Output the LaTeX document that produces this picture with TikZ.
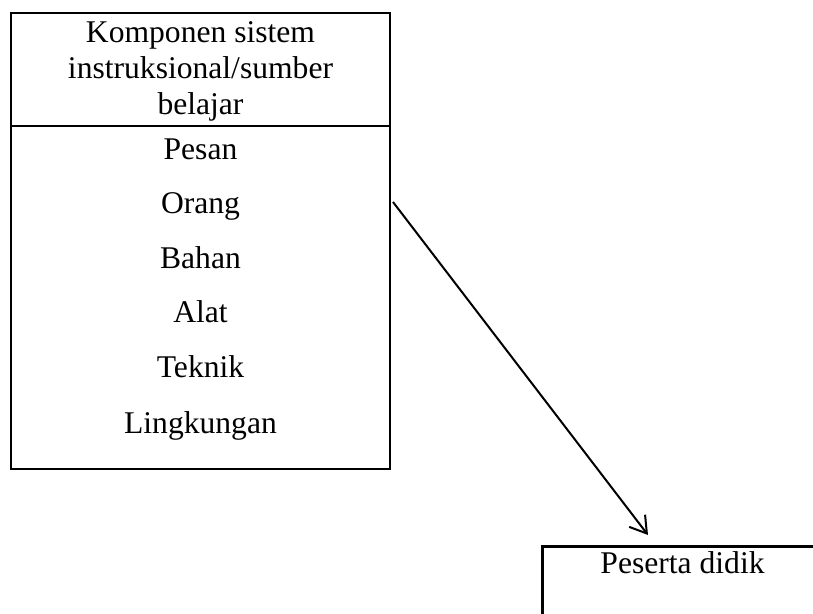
\documentclass[tikz,border=0pt]{standalone}
\usepackage{fontspec}
\setmainfont{Liberation Serif}
\usetikzlibrary{arrows.meta}
\begin{document}
\begin{tikzpicture}[x=0.5pt,y=-0.5pt,
  txt/.style={font=\fontsize{15.8}{18}\selectfont, inner sep=0pt, anchor=base},
  boxline/.style={line width=1.4pt},
  arr/.style={line width=1pt,-{Straight Barb[length=8pt,width=10pt,line width=1pt]}}]
\useasboundingbox (0,0) rectangle (813,614);
\clip (0,0) rectangle (813,614);
% box 1
\node[boxline, draw, minimum width=189.5pt, minimum height=228pt, inner sep=0pt] (box1) at (200.5,241) {};
\coordinate (divL) at (11,126);
\coordinate (divR) at (390,126);
\draw[boxline] (divL) -- (divR);
\node[txt] (h1) at (200.5,43) {Komponen sistem};
\node[txt] (h2) at (200.5,79) {instruksional/sumber};
\node[txt] (h3) at (200.5,115) {belajar};
\node[txt] (i1) at (200.5,160) {Pesan};
\node[txt] (i2) at (200.5,214) {Orang};
\node[txt] (i3) at (200.5,269) {Bahan};
\node[txt] (i4) at (200.5,323) {Alat};
\node[txt] (i5) at (200.5,378) {Teknik};
\node[txt] (i6) at (200.5,433) {Lingkungan};
% box 2
\node[boxline, draw, minimum width=145pt, minimum height=60pt, inner sep=0pt, anchor=north west] (box2) at (541,545) {};
\node[txt] (p) at (682.5,573) {Peserta didik};
% arrow
\coordinate (s) at (393,202);
\coordinate (t) at (648,535);
\draw[arr] (s) -- (t);
\end{tikzpicture}
\end{document}
